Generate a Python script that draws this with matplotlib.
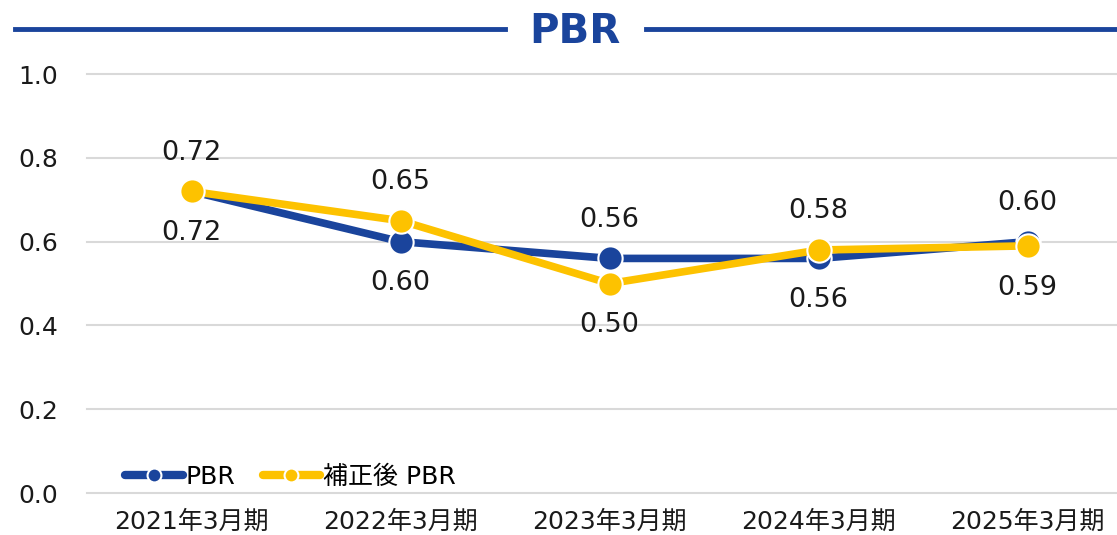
import matplotlib.pyplot as plt
from matplotlib.lines import Line2D

plt.rcParams['font.family'] = ['DejaVu Sans', 'Noto Sans CJK JP']

# データ
periods = ["2021年3月期", "2022年3月期", "2023年3月期", "2024年3月期", "2025年3月期"]
pbr = [0.72, 0.60, 0.56, 0.56, 0.60]
pbr_adj = [0.72, 0.65, 0.50, 0.58, 0.59]
yticks = [0.0, 0.2, 0.4, 0.6, 0.8, 1.0]

blue = "#1a449c"
yellow = "#fdc200"
txt = "#1a1a1a"

fig = plt.figure(figsize=(11.17, 5.35), dpi=100)
ax = fig.add_axes([0.078, 0.0785, 0.922, 0.783])

x = list(range(len(periods)))
ax.plot(x, pbr, color=blue, lw=5.5, marker="o", ms=17.5, mfc=blue, mec="white", mew=1.5,
        solid_capstyle="round", zorder=3, label="PBR")
ax.plot(x, pbr_adj, color=yellow, lw=5.5, marker="o", ms=17.5, mfc=yellow, mec="white", mew=1.5,
        solid_capstyle="round", zorder=4, label="補正後 PBR")

# ラベル: 値の大きい方を上、小さい方を下
for i in x:
    a, b = pbr[i], pbr_adj[i]
    blue_up = a > b
    ax.annotate(f"{a:.2f}", (i, a), xytext=(0, 28 if blue_up else -30), textcoords="offset points",
                ha="center", va="center", fontsize=19.5, color=txt)
    ax.annotate(f"{b:.2f}", (i, b), xytext=(0, -30 if blue_up else 28), textcoords="offset points",
                ha="center", va="center", fontsize=19.5, color=txt)

ax.set_xlim(-0.5, 4.428)
ax.set_ylim(0, 1.0)
ax.set_yticks(yticks)
ax.set_yticklabels([f"{v:.1f}" for v in yticks])
ax.set_xticks(x)
ax.set_xticklabels(periods)
ax.tick_params(axis="both", length=0, labelsize=18, colors=txt)
ax.tick_params(axis="y", pad=21)
ax.tick_params(axis="x", pad=12)
ax.grid(axis="y", color="#d9d9d9", lw=1.5)
ax.set_axisbelow(True)
for s in ax.spines.values():
    s.set_visible(False)
for gl in ax.get_ygridlines():
    gl.set_clip_on(False)

# 凡例
handles = [
    Line2D([], [], color=blue, lw=6, marker="o", ms=10, mfc=blue, mec="white", mew=1.5, solid_capstyle="round"),
    Line2D([], [], color=yellow, lw=6, marker="o", ms=10, mfc=yellow, mec="white", mew=1.5, solid_capstyle="round"),
]
ax.legend(handles, ["PBR", "補正後 PBR"], loc="lower left", bbox_to_anchor=(0.025, -0.02), frameon=False,
          ncol=2, fontsize=18, handlelength=2.3, handletextpad=0.1, columnspacing=1.1, borderaxespad=0.1)

# タイトル
fig.text(0.515, 0.94, "PBR", ha="center", va="center", fontsize=29, fontweight="bold", color=blue)
fig.add_artist(Line2D([0.013, 0.452], [0.945, 0.945], color=blue, lw=3.5))
fig.add_artist(Line2D([0.578, 1.0], [0.945, 0.945], color=blue, lw=3.5))

fig.savefig("out.png", dpi=100)
